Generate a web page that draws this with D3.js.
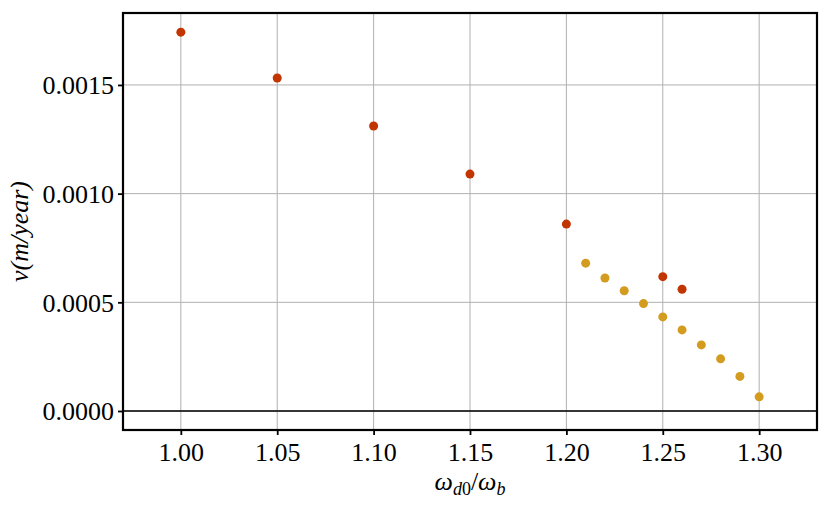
<!DOCTYPE html>
<html><head><meta charset="utf-8">
<script src="https://cdn.jsdelivr.net/npm/d3@7"></script>
<style>body{margin:0;background:#fff}svg{display:block}</style>
</head><body>
<svg id="c" width="831" height="508"></svg>
<script>
const redX = [1.00, 1.05, 1.10, 1.15, 1.20, 1.25, 1.26];
const redY = [0.001743, 0.001532, 0.001311, 0.001090, 0.000860, 0.000618, 0.000560];
const orangeX = [1.21, 1.22, 1.23, 1.24, 1.25, 1.26, 1.27, 1.28, 1.29, 1.30];
const orangeY = [0.000680, 0.000612, 0.000553, 0.000494, 0.000433, 0.000373, 0.000304, 0.000240, 0.000159, 0.000065];
const xTicks = [1.00, 1.05, 1.10, 1.15, 1.20, 1.25, 1.30];
const yTicks = [0.0000, 0.0005, 0.0010, 0.0015];

const svg = d3.select("#c");
const L = 123, R = 817, T = 13, B = 430;
const x = d3.scaleLinear().domain([0.97, 1.33]).range([L, R]);
const y = d3.scaleLinear().domain([-0.0000874, 0.001831]).range([B, T]);
const font = "Liberation Serif";

// grid
svg.append("g").selectAll("line").data(xTicks).join("line")
  .attr("x1", d => x(d)).attr("x2", d => x(d)).attr("y1", T).attr("y2", B)
  .attr("stroke", "#b0b0b0").attr("stroke-width", 1);
svg.append("g").selectAll("line").data(yTicks).join("line")
  .attr("x1", L).attr("x2", R).attr("y1", d => y(d)).attr("y2", d => y(d))
  .attr("stroke", "#b0b0b0").attr("stroke-width", 1);
// zero line
svg.append("line").attr("x1", L).attr("x2", R).attr("y1", y(0)).attr("y2", y(0))
  .attr("stroke", "#000").attr("stroke-width", 1.6);

// axes
const xa = svg.append("g").attr("transform", `translate(0,${B})`)
  .call(d3.axisBottom(x).tickValues(xTicks).tickFormat(d3.format(".2f")).tickSizeOuter(0).tickSize(5).tickPadding(8));
const ya = svg.append("g").attr("transform", `translate(${L},0)`)
  .call(d3.axisLeft(y).tickValues(yTicks).tickFormat(d3.format(".4f")).tickSizeOuter(0).tickSize(5).tickPadding(4));
[xa, ya].forEach(a => {
  a.attr("font-family", font);
  a.select(".domain").remove();
  a.selectAll(".tick line").attr("stroke", "#000").attr("stroke-width", 1.8);
  a.selectAll(".tick text").attr("font-family", font).attr("font-size", 26).attr("fill", "#000");
});
ya.selectAll(".tick text").attr("dy", "0.34em");

// points
svg.append("g").selectAll("circle").data(orangeX.map((d, i) => [d, orangeY[i]])).join("circle")
  .attr("cx", d => x(d[0])).attr("cy", d => y(d[1])).attr("r", 4.5).attr("fill", "#d49c1f");
svg.append("g").selectAll("circle").data(redX.map((d, i) => [d, redY[i]])).join("circle")
  .attr("cx", d => x(d[0])).attr("cy", d => y(d[1])).attr("r", 4.5).attr("fill", "#c23400");

// frame
svg.append("rect").attr("x", L).attr("y", T).attr("width", R - L).attr("height", B - T)
  .attr("fill", "none").attr("stroke", "#000").attr("stroke-width", 2.2);

// x title
const xt = svg.append("text").attr("x", (L + R) / 2).attr("y", 490).attr("text-anchor", "middle")
  .attr("font-family", font).attr("font-size", 26).attr("font-style", "italic");
xt.append("tspan").text("ω");
xt.append("tspan").attr("dy", 5).attr("font-size", 18).text("d");
xt.append("tspan").attr("font-size", 18).attr("font-style", "normal").text("0");
xt.append("tspan").attr("dy", -5).attr("font-style", "normal").text("/");
xt.append("tspan").text("ω");
xt.append("tspan").attr("dy", 5).attr("font-size", 18).text("b");

// y title
svg.append("text").attr("transform", `translate(28,${(T + B) / 2 + 10}) rotate(-90)`)
  .attr("text-anchor", "middle").attr("font-family", font).attr("font-size", 26).attr("font-style", "italic")
  .text("v(m/year)");
</script>
</body></html>
